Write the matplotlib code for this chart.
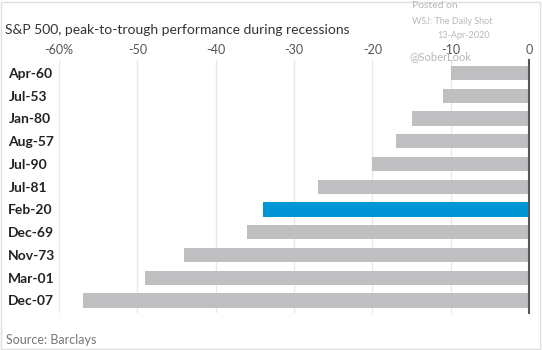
import matplotlib
matplotlib.use("Agg")
import matplotlib.pyplot as plt
from matplotlib.patches import Rectangle

plt.rcParams['font.family'] = ['Lato', 'DejaVu Sans']

categories = ["Apr-60", "Jul-53", "Jan-80", "Aug-57", "Jul-90", "Jul-81",
              "Feb-20", "Dec-69", "Nov-73", "Mar-01", "Dec-07"]
values = [-10, -11, -15, -17, -20, -27, -34, -36, -44, -49, -57]
highlight = "Feb-20"
xticks = [-60, -50, -40, -30, -20, -10, 0]
xticklabels = ["-60%", "-50", "-40", "-30", "-20", "-10", "0"]

W, H = 542, 350
fig = plt.figure(figsize=(W / 100, H / 100), dpi=100)
ax = fig.add_axes([59 / W, 1 - 313 / H, (529 - 59) / W, (313 - 60) / H])

colors = ["#0096D6" if c == highlight else "#BFBEC0" for c in categories]
ypos = list(range(len(categories)))
ax.barh(ypos, values, height=0.62, color=colors, zorder=2)

ax.set_xlim(-60, 0)
ax.set_ylim(10.55, -0.57)
ax.set_xticks(xticks)
ax.set_xticklabels(xticklabels)
ax.xaxis.tick_top()
ax.tick_params(axis='x', length=0, pad=3, labelsize=9, labelcolor="#555555")
ax.set_yticks(ypos)
ax.set_yticklabels(categories, fontsize=10, fontweight='bold', color="#222222")
ax.tick_params(axis='y', length=0, pad=36.5)
for lab in ax.get_yticklabels():
    lab.set_horizontalalignment('left')

ax.grid(axis='x', color="#E8E8E8", linewidth=1, zorder=0)
for s in ["left", "top", "bottom"]:
    ax.spines[s].set_visible(False)
ax.spines["right"].set_color("#555555")
ax.spines["right"].set_linewidth(1.5)
ax.spines["right"].set_zorder(3)

fig.text(5 / W, 1 - 30 / H, "S&P 500, peak-to-trough performance during recessions",
         fontsize=10, color="#333333", va='center', ha='left')
fig.text(6 / W, 1 - 340 / H, "Source: Barclays", fontsize=9, color="#777777",
         va='center', ha='left')

wm = "#B8B8B8"
fig.text(412 / W, 1 - 6 / H, "Posted on", fontsize=7.5, color=wm, va='center', ha='left')
fig.text(412 / W, 1 - 21 / H, "WSJ: The Daily Shot", fontsize=6.5, color=wm, va='center', ha='left')
fig.text(490 / W, 1 - 36 / H, "13-Apr-2020", fontsize=6.5, color=wm, va='center', ha='right')
fig.text(409 / W, 1 - 57 / H, "@SoberLook", fontsize=8, color=wm, va='center', ha='left')

fig.patches.append(Rectangle((1 / W, 1 / H), 1 - 3 / W, 1 - 3 / H, transform=fig.transFigure,
                             fill=False, edgecolor="#E0E0E0", linewidth=1))

fig.savefig("out.png", dpi=100)
